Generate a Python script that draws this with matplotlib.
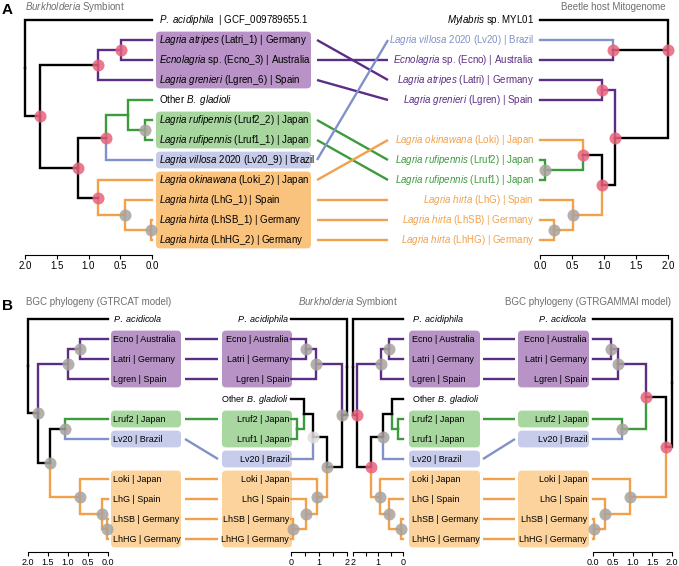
import matplotlib
matplotlib.use('Agg')
import matplotlib.pyplot as plt
from matplotlib.patches import FancyBboxPatch
import numpy as np

plt.rcParams['font.family'] = 'Liberation Sans'
plt.rcParams['mathtext.fontset'] = 'custom'
plt.rcParams['mathtext.it'] = 'Liberation Sans:italic'
plt.rcParams['mathtext.rm'] = 'Liberation Sans'

W, H = 679, 566

# ---------------- data ----------------
# host clade of each tip ('' = no group / black)
leaf_group = {'Latri': 'pur', 'Ecno': 'pur', 'Lgren': 'pur', 'Lruf1': 'grn', 'Lruf2': 'grn',
              'Lv20': 'blu', 'Loki': 'org', 'LhG': 'org', 'LhSB': 'org', 'LhHG': 'org'}

# trees: (node, height, stem group, children); tips sit at height 0
symb_a = ('root', 2.0, '', ['Pacid',
          ('X', 1.76, '', [
              ('A', 0.85, '', [('A1', 0.49, 'pur', ['Latri', 'Ecno']), 'Lgren']),
              ('B', 1.17, '', [
                  ('C', 0.72, '', [('D', 0.38, 'grn', ['Other', ('R', 0.11, 'grn', ['Lruf2', 'Lruf1'])]), 'Lv20']),
                  ('E', 0.85, '', ['Loki', ('F', 0.43, 'org', ['LhG', ('G', 0.02, 'org', ['LhSB', 'LhHG'])])])])])])
symb_a_order = ['Pacid', 'Latri', 'Ecno', 'Lgren', 'Other', 'Lruf2', 'Lruf1', 'Lv20', 'Loki', 'LhG', 'LhSB', 'LhHG']
symb_a_support = {'X': 'hi', 'A': 'hi', 'A1': 'hi', 'B': 'hi', 'C': 'hi', 'E': 'hi', 'R': 'lo', 'F': 'lo', 'G': 'lo'}

host = ('root', 2.0, '', ['Myl',
        ('V', 1.14, '', ['Lv20', 'Ecno']),
        ('M', 1.17, '', [
            ('L', 0.97, 'pur', ['Latri', 'Lgren']),
            ('N', 0.97, '', [
                ('O', 0.67, '', ['Loki', ('R', 0.08, 'grn', ['Lruf2', 'Lruf1'])]),
                ('P', 0.52, 'org', ['LhG', ('Q', 0.22, 'org', ['LhSB', 'LhHG'])])])])])
host_order = ['Myl', 'Lv20', 'Ecno', 'Latri', 'Lgren', None, 'Loki', 'Lruf2', 'Lruf1', 'LhG', 'LhSB', 'LhHG']
host_support = {'root': 'hi', 'V': 'hi', 'M': 'hi', 'L': 'hi', 'N': 'hi', 'O': 'hi', 'R': 'lo', 'P': 'lo', 'Q': 'lo'}

bgc_cat = ('root', 2.0, '', ['Pacid',
           ('X', 1.75, '', [
               ('Pb', 1.0, 'pur', [('Pa', 0.7, 'pur', ['Ecno', 'Latri']), 'Lgren']),
               ('Y', 1.45, '', [
                   ('GB', 1.08, '', ['Lruf2', 'Lv20']),
                   ('O1', 0.7, 'org', ['Loki', ('O2', 0.15, 'org', ['LhG', ('O3', 0.02, 'org', ['LhSB', 'LhHG'])])])])])])
bgc_cat_support = {'X': 'lo', 'Pb': 'lo', 'Pa': 'lo', 'Y': 'lo', 'GB': 'lo', 'O1': 'lo', 'O2': 'lo', 'O3': 'lo'}

bgc_gam = ('root', 2.0, '', ['Pacid',
           ('X', 1.85, '', [
               ('P', 1.34, '', [
                   ('Pb', 0.63, 'pur', [('Pa', 0.46, 'pur', ['Ecno', 'Latri']), 'Lgren']),
                   ('GB', 0.73, 'grn', ['Lruf2', 'Lv20'])]),
               ('O1', 0.94, 'org', ['Loki', ('O2', 0.3, 'org', ['LhG', ('O3', 0.03, 'org', ['LhSB', 'LhHG'])])])])])
bgc_gam_support = {'X': 'hi', 'P': 'hi', 'Pb': 'lo', 'Pa': 'lo', 'GB': 'lo', 'O1': 'lo', 'O2': 'lo', 'O3': 'lo'}
bgc_order = ['Pacid', 'Ecno', 'Latri', 'Lgren', None, 'Lruf2', 'Lv20', None, 'Loki', 'LhG', 'LhSB', 'LhHG']

symb_b = ('root', 2.0, '', ['Pacid',
          ('X', 1.83, '', [
              ('Pb', 0.9, 'pur', [('Pa', 0.55, 'pur', ['Ecno', 'Latri']), 'Lgren']),
              ('B', 1.28, '', [
                  ('C', 0.8, '', [('D', 0.45, '', ['Other', ('R', 0.22, 'grn', ['Lruf2', 'Lruf1'])]), 'Lv20']),
                  ('E', 0.93, 'org', ['Loki', ('F', 0.55, 'org', ['LhG', ('G', 0.07, 'org', ['LhSB', 'LhHG'])])])])])])
symb_b_order = ['Pacid', 'Ecno', 'Latri', 'Lgren', 'Other', 'Lruf2', 'Lruf1', 'Lv20', 'Loki', 'LhG', 'LhSB', 'LhHG']
symb_b_support_l = {'X': 'lo', 'Pb': 'lo', 'Pa': 'lo', 'B': 'lo', 'C': 'faint', 'E': 'lo', 'F': 'lo', 'G': 'lo'}
symb_b_support_r = {'X': 'hi', 'B': 'hi', 'Pb': 'lo', 'Pa': 'lo', 'C': 'lo', 'E': 'lo', 'F': 'lo', 'G': 'lo'}

labels_symb_a = {
    'Pacid': r'$\mathit{P.\ acidiphila}$  | GCF_009789655.1',
    'Latri': r'$\mathit{Lagria\ atripes}$ (Latri_1) | Germany',
    'Ecno': r'$\mathit{Ecnolagria}$ sp. (Ecno_3) | Australia',
    'Lgren': r'$\mathit{Lagria\ grenieri}$ (Lgren_6) | Spain',
    'Other': r'Other $\mathit{B.\ gladioli}$',
    'Lruf2': r'$\mathit{Lagria\ rufipennis}$ (Lruf2_2) | Japan',
    'Lruf1': r'$\mathit{Lagria\ rufipennis}$ (Lruf1_1) | Japan',
    'Lv20': r'$\mathit{Lagria\ villosa}$ 2020 (Lv20_9) | Brazil',
    'Loki': r'$\mathit{Lagria\ okinawana}$ (Loki_2) | Japan',
    'LhG': r'$\mathit{Lagria\ hirta}$ (LhG_1) | Spain',
    'LhSB': r'$\mathit{Lagria\ hirta}$ (LhSB_1) | Germany',
    'LhHG': r'$\mathit{Lagria\ hirta}$ (LhHG_2) | Germany',
}
labels_host = {
    'Myl': r'$\mathit{Mylabris}$ sp. MYL01',
    'Lv20': r'$\mathit{Lagria\ villosa}$ 2020 (Lv20) | Brazil',
    'Ecno': r'$\mathit{Ecnolagria}$ sp. (Ecno) | Australia',
    'Latri': r'$\mathit{Lagria\ atripes}$ (Latri) | Germany',
    'Lgren': r'$\mathit{Lagria\ grenieri}$ (Lgren) | Spain',
    'Loki': r'$\mathit{Lagria\ okinawana}$ (Loki) | Japan',
    'Lruf2': r'$\mathit{Lagria\ rufipennis}$ (Lruf2) | Japan',
    'Lruf1': r'$\mathit{Lagria\ rufipennis}$ (Lruf1) | Japan',
    'LhG': r'$\mathit{Lagria\ hirta}$ (LhG) | Spain',
    'LhSB': r'$\mathit{Lagria\ hirta}$ (LhSB) | Germany',
    'LhHG': r'$\mathit{Lagria\ hirta}$ (LhHG) | Germany',
}
labels_short = {
    'Ecno': 'Ecno | Australia', 'Latri': 'Latri | Germany', 'Lgren': 'Lgren | Spain',
    'Lruf2': 'Lruf2 | Japan', 'Lruf1': 'Lruf1 | Japan', 'Lv20': 'Lv20 | Brazil',
    'Loki': 'Loki | Japan', 'LhG': 'LhG | Spain', 'LhSB': 'LhSB | Germany', 'LhHG': 'LhHG | Germany',
    'Other': r'Other $\mathit{B.\ gladioli}$',
}

# ---------------- styles ----------------
LINE = {'': 'black', 'pur': '#5b2d84', 'grn': '#3c9b3c', 'blu': '#8191c9', 'org': '#f2a14a'}
BOX_A = {'pur': '#b993c7', 'grn': '#a7d79e', 'blu': '#c7cbea', 'org': '#f9c27d'}
BOX_B = {'pur': '#b893c6', 'grn': '#a8d8a0', 'blu': '#c8cceb', 'org': '#fcd39c'}
DOT = {'hi': '#e8627c', 'lo': '#a8a39e', 'faint': '#dedcdc'}
GREY = '#6e6e6e'
LW = 1.7

fig = plt.figure(figsize=(W / 100, H / 100), dpi=100)


def slots_of(order):
    return {k: i for i, k in enumerate(order) if k is not None}


def draw_tree(ax, node, slots, groups, support):
    if isinstance(node, str):
        return slots[node], 0.0
    name, h, g, kids = node
    res = [draw_tree(ax, k, slots, groups, support) for k in kids]
    y = float(np.median([r[0] for r in res]))
    for k, (cy, ch) in zip(kids, res):
        kg = groups.get(k, '') if isinstance(k, str) else k[2]
        ax.plot([h, h, ch], [y, cy, cy], color=LINE[kg], lw=LW, solid_joinstyle='miter',
                solid_capstyle='projecting', clip_on=False, zorder=2)
    if name in support:
        ax.scatter([h], [y], s=75, color=DOT[support[name]], alpha=0.85, linewidths=0,
                   zorder=3, clip_on=False)
    return y, h


def tree_axes(x0, x1, y0, y1, flip, off, ticklabels, fs):
    ax = fig.add_axes([x0 / W, 1 - y1 / H, (x1 - x0) / W, (y1 - y0) / H])
    ax.set_xlim((2, 0) if flip else (0, 2))
    ax.set_ylim(11.5, -0.5)
    ax.patch.set_visible(False)
    for s in ['left', 'top', 'right']:
        ax.spines[s].set_visible(False)
    ax.spines['bottom'].set_bounds(0, 2)
    ax.spines['bottom'].set_position(('outward', off))
    ax.spines['bottom'].set_linewidth(0.8)
    ax.set_yticks([])
    ax.set_xticks(np.arange(0, 2.01, 0.5))
    ax.set_xticklabels(ticklabels)
    ax.tick_params(axis='x', length=3, width=0.8, labelsize=fs, pad=1.5)
    return ax


def overlay(y0, y1):
    ov = fig.add_axes([0, 1 - y1 / H, 1, (y1 - y0) / H], zorder=-1)
    ov.set_xlim(0, W)
    ov.set_ylim(11.5, -0.5)
    ov.axis('off')
    return ov


def boxes(ov, slots, x0, x1, colors):
    for g in ['pur', 'grn', 'blu', 'org']:
        ys = [slots[k] for k in slots if leaf_group.get(k) == g]
        if not ys:
            continue
        lo, hi = min(ys) - 0.42, max(ys) + 0.42
        ov.add_patch(FancyBboxPatch((x0, lo), x1 - x0, hi - lo,
                                    boxstyle='round,pad=0,rounding_size=4',
                                    mutation_aspect=1 / 20, fc=colors[g], ec='none', zorder=0))


def tip_labels(ov, slots, texts, x, ha, fs, colored=False):
    for k, i in slots.items():
        c = LINE[leaf_group.get(k, '')] if colored else 'black'
        ov.text(x, i, texts[k], ha=ha, va='center', fontsize=fs, color=c, zorder=2)


def connect(ov, sa, sb, xa, xb):
    for k in sa:
        if k in sb and k in leaf_group:
            ov.plot([xa, xb], [sa[k], sb[k]], color=LINE[leaf_group[k]], lw=LW,
                    solid_capstyle='butt', zorder=1)


# ---------------- panel A ----------------
A_Y0, A_Y1 = 10, 250
ovA = overlay(A_Y0, A_Y1)
tick1 = ['0.0', '0.5', '1.0', '1.5', '2.0']

sA = slots_of(symb_a_order)
axA1 = tree_axes(25, 152, A_Y0, A_Y1, True, 3.6, tick1, 7)
draw_tree(axA1, symb_a, sA, dict(leaf_group, Other='grn'), symb_a_support)
boxes(ovA, {k: v for k, v in sA.items() if k != 'Other'}, 156, 311, BOX_A)
tip_labels(ovA, sA, labels_symb_a, 159, 'left', 7)

sH = slots_of(host_order)
axA2 = tree_axes(540, 668, A_Y0, A_Y1, False, 3.6, tick1, 7)
draw_tree(axA2, host, sH, leaf_group, host_support)
tip_labels(ovA, sH, labels_host, 534, 'right', 7, colored=True)
connect(ovA, sA, sH, 317, 388)

# ---------------- panel B ----------------
B_Y0, B_Y1 = 309, 549
ovB = overlay(B_Y0, B_Y1)
sC = slots_of(bgc_order)
sS = slots_of(symb_b_order)

axB1 = tree_axes(28, 108, B_Y0, B_Y1, True, 2.2, tick1, 6.5)
draw_tree(axB1, bgc_cat, sC, leaf_group, bgc_cat_support)
boxes(ovB, sC, 111, 181, BOX_B)
tip_labels(ovB, sC, dict(labels_short, Pacid=r'$\mathit{P.\ acidicola}$'), 113, 'left', 6.5)

tick2 = ['0', '', '1', '', '2']
axB2 = tree_axes(291, 347, B_Y0, B_Y1, False, 2.2, tick2, 6.5)
draw_tree(axB2, symb_b, sS, leaf_group, symb_b_support_l)
boxes(ovB, sS, 222, 292, BOX_B)
tip_labels(ovB, sS, dict(labels_short, Pacid=r'$\mathit{P.\ acidiphila}$'), 289, 'right', 6.5)

axB3 = tree_axes(353, 403, B_Y0, B_Y1, True, 2.2, tick2, 6.5)
draw_tree(axB3, symb_b, sS, leaf_group, symb_b_support_r)
boxes(ovB, sS, 409, 480, BOX_B)
tip_labels(ovB, sS, dict(labels_short, Pacid=r'$\mathit{P.\ acidiphila}$'), 412, 'left', 6.5)

axB4 = tree_axes(593, 672, B_Y0, B_Y1, False, 2.2, tick1, 6.5)
draw_tree(axB4, bgc_gam, sC, leaf_group, bgc_gam_support)
boxes(ovB, sC, 518, 589, BOX_B)
tip_labels(ovB, sC, dict(labels_short, Pacid=r'$\mathit{P.\ acidicola}$'), 587, 'right', 6.5)

connect(ovB, sC, sS, 185, 218)
connect(ovB, sS, sC, 483, 515)

# ---------------- titles ----------------
def ftext(x, y, s, **kw):
    fig.text(x / W, 1 - y / H, s, va='center', **kw)

ftext(2, 10, 'A', fontsize=11, fontweight='bold')
ftext(2, 306, 'B', fontsize=11, fontweight='bold')
ftext(25, 7, r'$\mathit{Burkholderia}$ Symbiont', fontsize=7, color=GREY)
ftext(613, 7, 'Beetle host Mitogenome', fontsize=7, color=GREY, ha='center')
ftext(26, 302, 'BGC phylogeny (GTRCAT model)', fontsize=7, color=GREY)
ftext(348, 302, r'$\mathit{Burkholderia}$ Symbiont', fontsize=7, color=GREY, ha='center')
ftext(671, 302, 'BGC phylogeny (GTRGAMMAI model)', fontsize=7, color=GREY, ha='right')

fig.savefig('out.png', dpi=100)
